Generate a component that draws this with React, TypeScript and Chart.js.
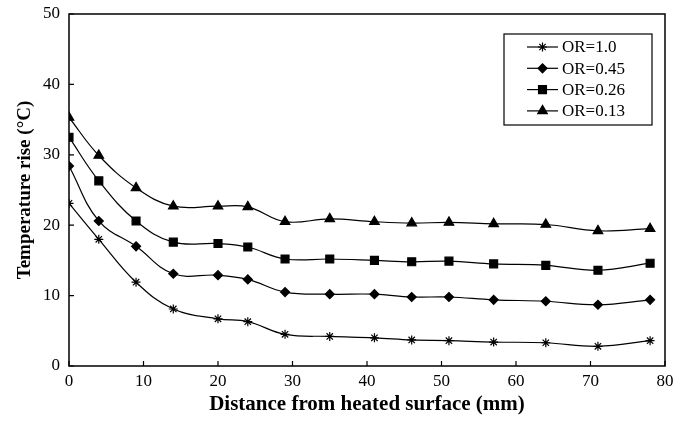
import React, { useEffect, useRef } from "react";
import { Chart, registerables } from "chart.js";
import { drawPoint } from "chart.js/helpers";

Chart.register(...registerables);

const distances = [0, 4, 9, 14, 20, 24, 29, 35, 41, 46, 51, 57, 64, 71, 78];
const seriesLabels = ["OR=1.0", "OR=0.45", "OR=0.26", "OR=0.13"];
const or100 = [23.1, 18.0, 11.9, 8.1, 6.7, 6.3, 4.5, 4.2, 4.0, 3.7, 3.6, 3.4, 3.3, 2.8, 3.6];
const or045 = [28.4, 20.6, 17.0, 13.1, 12.9, 12.3, 10.5, 10.2, 10.2, 9.8, 9.8, 9.4, 9.2, 8.7, 9.4];
const or026 = [32.5, 26.3, 20.6, 17.6, 17.4, 16.9, 15.2, 15.2, 15.0, 14.8, 14.9, 14.5, 14.3, 13.6, 14.6];
const or013 = [35.3, 29.9, 25.3, 22.7, 22.7, 22.6, 20.5, 20.9, 20.5, 20.3, 20.4, 20.2, 20.1, 19.2, 19.5];
const xTickValues = [0, 10, 20, 30, 40, 50, 60, 70, 80];
const yTickValues = [0, 10, 20, 30, 40, 50];

const FONT = "'Liberation Serif', 'Times New Roman', serif";

const frameTicksPlugin = {
  id: "frameTicks",
  afterDatasetsDraw(chart: any) {
    const { ctx, chartArea } = chart;
    const xs = chart.scales.x;
    const ys = chart.scales.y;
    ctx.save();
    ctx.strokeStyle = "#000";
    ctx.lineWidth = 1.5;
    ctx.strokeRect(chartArea.left, chartArea.top, chartArea.right - chartArea.left, chartArea.bottom - chartArea.top);
    ctx.lineWidth = 1.2;
    ctx.beginPath();
    xTickValues.forEach((v) => {
      const px = xs.getPixelForValue(v);
      ctx.moveTo(px, chartArea.bottom);
      ctx.lineTo(px, chartArea.bottom - 5);
    });
    yTickValues.forEach((v) => {
      const py = ys.getPixelForValue(v);
      ctx.moveTo(chartArea.left, py);
      ctx.lineTo(chartArea.left + 5, py);
    });
    ctx.stroke();

    // legend box
    const bw = 148;
    const bh = 91;
    const bx = chartArea.right - 13 - bw;
    const by = chartArea.top + 20;
    ctx.fillStyle = "#fff";
    ctx.fillRect(bx, by, bw, bh);
    ctx.lineWidth = 1.2;
    ctx.strokeRect(bx, by, bw, bh);
    ctx.font = "17px " + FONT;
    ctx.textBaseline = "middle";
    ctx.textAlign = "left";
    chart.data.datasets.forEach((ds: any, i: number) => {
      const cy = by + 13 + i * 21.3;
      ctx.strokeStyle = "#000";
      ctx.lineWidth = 1.2;
      ctx.beginPath();
      ctx.moveTo(bx + 23, cy);
      ctx.lineTo(bx + 54, cy);
      ctx.stroke();
      ctx.fillStyle = "#000";
      drawPoint(ctx, { pointStyle: ds.pointStyle, radius: ds.pointRadius, rotation: 0, borderWidth: 1.2 } as any, bx + 38.5, cy);
      ctx.fillStyle = "#000";
      ctx.fillText(ds.label, bx + 58, cy + 1);
    });
    ctx.restore();
  },
};

export default function App() {
  const canvasRef = useRef<HTMLCanvasElement | null>(null);

  useEffect(() => {
    document.body.style.margin = "0";
    const canvas = canvasRef.current;
    if (!canvas) return;
    const mk = (label: string, values: number[], style: string, r: number) => ({
      label,
      data: distances.map((d, i) => ({ x: d, y: values[i] })),
      borderColor: "#000",
      backgroundColor: "#000",
      borderWidth: 1.2,
      pointStyle: style,
      pointRadius: r,
      pointBorderColor: "#000",
      pointBackgroundColor: "#000",
      pointBorderWidth: 1.2,
      tension: 0.4,
      fill: false,
    });
    const chart = new Chart(canvas, {
      type: "line",
      data: {
        datasets: [
          mk(seriesLabels[0], or100, "star", 4.5),
          mk(seriesLabels[1], or045, "rectRot", 4.5),
          mk(seriesLabels[2], or026, "rect", 5.6),
          mk(seriesLabels[3], or013, "triangle", 5.5),
        ],
      },
      options: {
        animation: false,
        responsive: false,
        maintainAspectRatio: false,
        layout: { autoPadding: false, padding: { top: 14, right: 27, left: 0, bottom: 0 } },
        plugins: { legend: { display: false }, tooltip: { enabled: false } },
        scales: {
          x: {
            type: "linear",
            min: 0,
            max: 80,
            grid: { display: false, drawTicks: false },
            border: { display: false },
            ticks: {
              stepSize: 10,
              padding: 5,
              color: "#000",
              font: { family: FONT, size: 17 },
              maxRotation: 0,
            },
            title: {
              display: true,
              text: "Distance from heated surface (mm)",
              color: "#000",
              font: { family: FONT, size: 21, weight: "bold" },
              padding: { top: 0, bottom: 4 },
            },
            afterFit: (s: any) => {
              s.height = 55;
              s.paddingLeft = 0;
              s.paddingRight = 0;
            },
          },
          y: {
            min: 0,
            max: 50,
            grid: { display: false, drawTicks: false },
            border: { display: false },
            ticks: {
              stepSize: 10,
              padding: 9,
              color: "#000",
              font: { family: FONT, size: 17 },
            },
            title: {
              display: true,
              text: "Temperature rise (°C)",
              color: "#000",
              font: { family: FONT, size: 19, weight: "bold" },
              padding: { top: 14, bottom: 0 },
            },
            afterFit: (s: any) => {
              s.width = 69;
              s.paddingTop = 0;
              s.paddingBottom = 0;
            },
          },
        },
      },
      plugins: [frameTicksPlugin],
    } as any);
    return () => chart.destroy();
  }, []);

  return (
    <div style={{ width: 692, height: 421, position: "relative" }}>
      <canvas ref={canvasRef} width={692} height={421} style={{ width: 692, height: 421, display: "block" }} />
    </div>
  );
}
